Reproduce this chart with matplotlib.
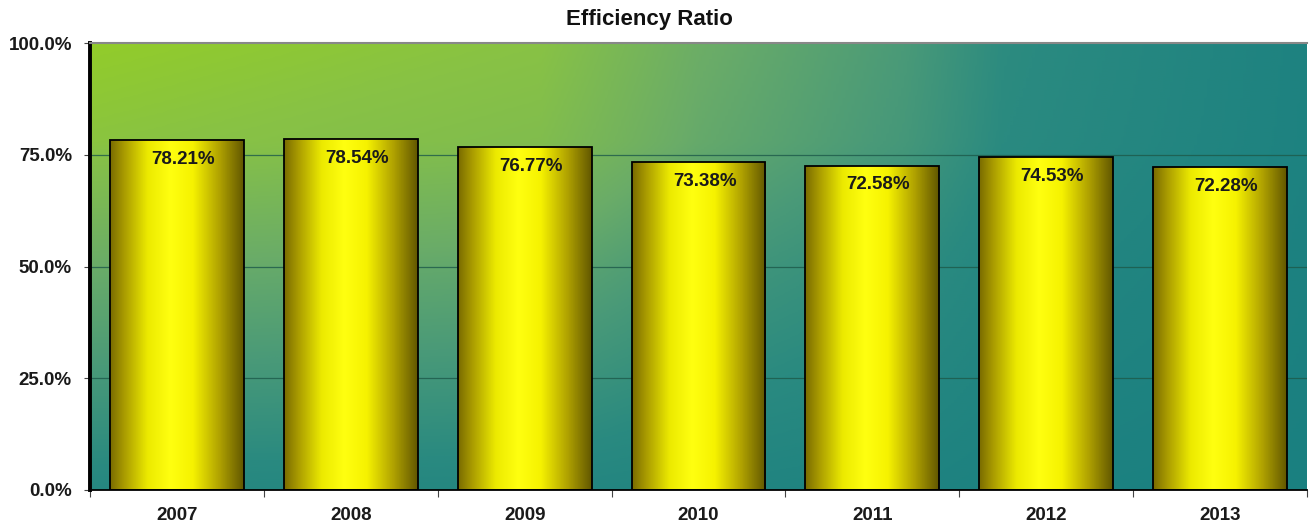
import numpy as np
import matplotlib
matplotlib.use("Agg")
import matplotlib.pyplot as plt
from matplotlib.colors import LinearSegmentedColormap
from matplotlib.ticker import FuncFormatter

years = ["2007", "2008", "2009", "2010", "2011", "2012", "2013"]
ratios = [78.21, 78.54, 76.77, 73.38, 72.58, 74.53, 72.28]
title = "Efficiency Ratio"

plt.rcParams['font.family'] = ['Liberation Sans', 'DejaVu Sans']

fig = plt.figure(figsize=(13.09, 5.23), dpi=100)
ax = fig.add_axes([90/1309, 1-490/523, (1307-90)/1309, (490-43)/523])

ax.set_xlim(-0.5, len(years) - 0.5)
ax.set_ylim(0, 100)

# background gradient
n = 400
u = np.linspace(0, 1, n)
v = np.linspace(0, 1, n)
fv = np.interp(v, [0, 0.3, 0.5, 0.78, 1.0], [0.15, 0.42, 0.6, 0.92, 1.0])
gu = np.interp(u, [0, 0.37, 0.5, 0.67, 0.75, 1.0], [1.0, 0.9, 0.62, 0.4, 0.22, 0.05])
w = fv[:, None] * gu[None, :]
bg_cmap = LinearSegmentedColormap.from_list(
    "bg", [(0.0, "#1a8080"), (0.2, "#2a8a80"), (0.4, "#4a9a78"), (0.6, "#6aac68"),
           (0.9, "#88c245"), (1.0, "#92cc2a")])
ax.imshow(w, cmap=bg_cmap, origin="lower", extent=[0, 1, 0, 1], transform=ax.transAxes,
          aspect="auto", zorder=0, vmin=0, vmax=1, interpolation="bilinear")

# grid
for yv in [25, 50, 75]:
    ax.axhline(yv, color="#1d5a4a", lw=0.9, zorder=1, alpha=0.8)

bars = ax.bar(range(len(years)), ratios, width=0.77, color="none", edgecolor="black",
              linewidth=1.3, zorder=3)

bar_cmap = LinearSegmentedColormap.from_list(
    "bar", [(0.0, "#7a6c00"), (0.1, "#a89a00"), (0.28, "#ecea00"), (0.45, "#ffff10"),
            (0.62, "#f6f200"), (0.82, "#b0a200"), (1.0, "#635800")])
grad = np.linspace(0, 1, 200)[None, :]
for b in bars:
    x0, y0 = b.get_x(), b.get_y()
    wdt, h = b.get_width(), b.get_height()
    im = ax.imshow(grad, cmap=bar_cmap, extent=[x0, x0 + wdt, y0, y0 + h],
                   aspect="auto", zorder=2, interpolation="bilinear")
    im.set_clip_path(b)
    ax.text(x0 + wdt / 2 + 0.035, y0 + h - 4.3, f"{h:.2f}%", ha="center", va="center",
            fontsize=13.5, fontweight="bold", color="#1a1a1a", zorder=4)

ax.set_xlim(-0.5, len(years) - 0.5)
ax.set_ylim(0, 100)

ax.set_yticks([0, 25, 50, 75, 100])
ax.yaxis.set_major_formatter(FuncFormatter(lambda val, pos: f"{val:.1f}%"))
ax.set_xticks(np.arange(len(years) + 1) - 0.5, minor=False)
ax.set_xticklabels([])
ax.set_xticks(range(len(years)), minor=True)
ax.set_xticklabels(years, minor=True)
ax.tick_params(axis="x", which="minor", length=0, pad=12, labelsize=13.5)
ax.tick_params(axis="x", which="major", length=5, color="#444444")
ax.tick_params(axis="y", length=4, labelsize=13.5, pad=9, color="#444444")
for lbl in ax.get_xticklabels(minor=True) + ax.get_yticklabels():
    lbl.set_fontweight("bold")
    lbl.set_color("#1a1a1a")

ax.spines["left"].set_linewidth(2.8)
ax.spines["left"].set_color("black")
ax.spines["bottom"].set_linewidth(1.3)
ax.spines["bottom"].set_color("black")
ax.spines["top"].set_color("#888888")
ax.spines["top"].set_linewidth(1.5)
ax.spines["right"].set_visible(False)

fig.text(649/1309, 1 - 19/523, title, ha="center", va="center", fontsize=16,
         fontweight="bold", color="#111111")

fig.savefig("out.png", dpi=100)
